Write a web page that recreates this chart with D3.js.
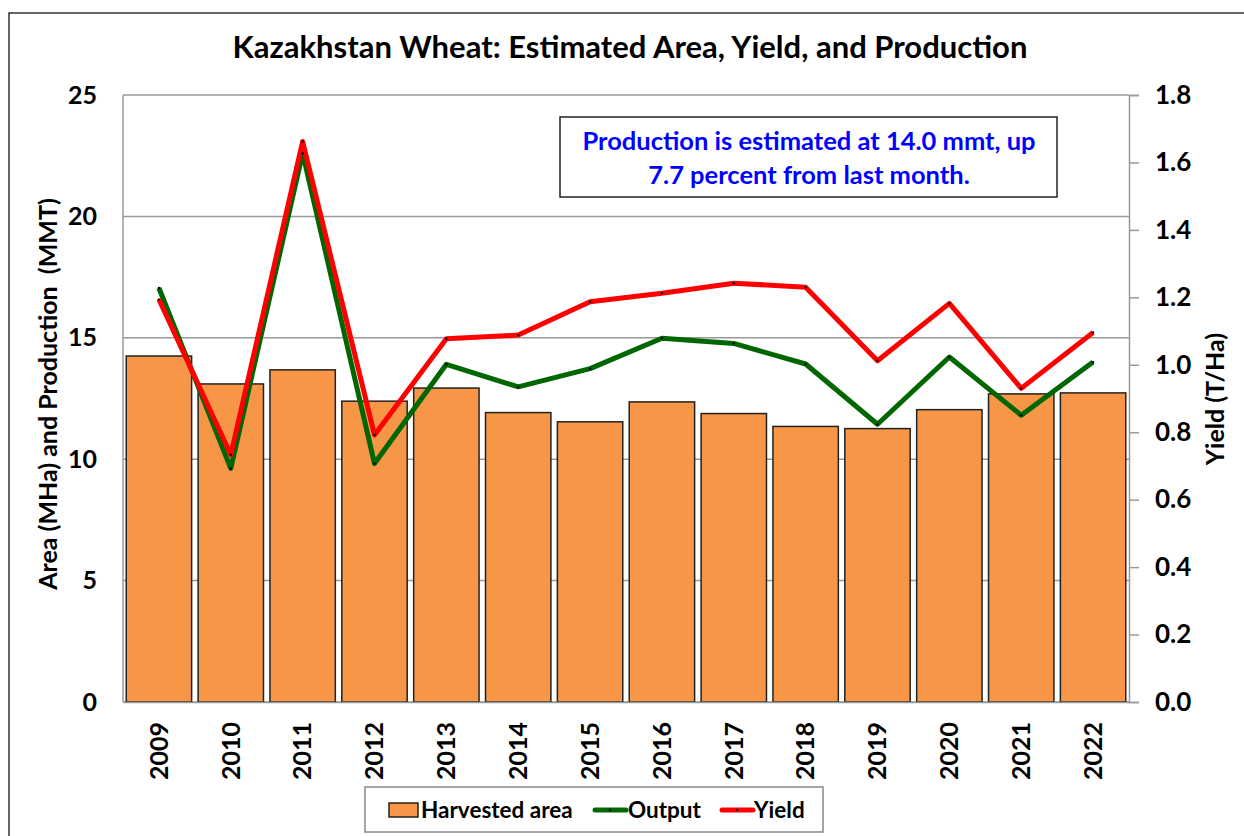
<!DOCTYPE html>
<html>
<head>
<meta charset="utf-8">
<script src="https://cdn.jsdelivr.net/npm/d3@7"></script>
<style>
    body { margin: 0; background: #fff; }
    text { font-family: Lato, "Open Sans", sans-serif; font-weight: bold; }
</style>
</head>
<body>
<div id="chart"></div>
<script>
// Data
const years = ['2009', '2010', '2011', '2012', '2013', '2014', '2015', '2016', '2017', '2018', '2019', '2020', '2021', '2022']
const harvestedArea = [14.25, 13.1, 13.68, 12.39, 12.93, 11.92, 11.54, 12.36, 11.88, 11.35, 11.26, 12.04, 12.69, 12.73]
const output = [17.05, 9.62, 22.6, 9.82, 13.91, 12.98, 13.73, 14.98, 14.77, 13.92, 11.44, 14.21, 11.81, 14.0]
const yieldTHa = [1.194, 0.733, 1.662, 0.792, 1.077, 1.088, 1.187, 1.212, 1.242, 1.23, 1.012, 1.182, 0.93, 1.096]
const leftTicks = [0, 5, 10, 15, 20, 25]
const rightTicks = [0, 0.2, 0.4, 0.6, 0.8, 1.0, 1.2, 1.4, 1.6, 1.8]
const noteLines = ['Production is estimated at 14.0 mmt, up', '7.7 percent from last month.']

const W = 1244, H = 836
const margin = { top: 95, right: 115, bottom: 134, left: 123 }
const width = W - margin.left - margin.right
const height = H - margin.top - margin.bottom

const svg = d3.select('#chart').append('svg')
    .attr('width', W)
    .attr('height', H)

// Outer frame (cropped on the right and bottom like the original)
svg.append('rect')
    .attr('x', 9).attr('y', 13)
    .attr('width', W + 20).attr('height', H + 20)
    .attr('fill', 'none')
    .attr('stroke', '#333')
    .attr('stroke-width', 1.5)

svg.append('text')
    .attr('x', 630).attr('y', 58)
    .attr('text-anchor', 'middle')
    .attr('font-size', 31)
    .text('Kazakhstan Wheat: Estimated Area, Yield, and Production')

const g = svg.append('g')
    .attr('transform', `translate(${margin.left},${margin.top})`)

const x = d3.scaleBand().domain(years).range([0, width]).paddingInner(0.09).paddingOuter(0.045)
const yLeft = d3.scaleLinear().domain([0, 25]).range([height, 0])
const yRight = d3.scaleLinear().domain([0, 1.8]).range([height, 0])

// Grid lines
g.append('g')
    .selectAll('line')
    .data(leftTicks)
    .join('line')
    .attr('x1', 0).attr('x2', width)
    .attr('y1', d => yLeft(d)).attr('y2', d => yLeft(d))
    .attr('stroke', '#999')
    .attr('stroke-width', 1.5)

// Plot frame (left side)
g.append('line')
    .attr('x1', 0).attr('x2', 0)
    .attr('y1', 0).attr('y2', height)
    .attr('stroke', '#999').attr('stroke-width', 1.5)

// Left axis
const leftAxis = g.append('g')
    .call(d3.axisLeft(yLeft).tickValues(leftTicks).tickSize(0).tickPadding(26))
leftAxis.select('.domain').remove()
leftAxis.selectAll('text').attr('font-size', 25).attr('fill', '#000')

// Bars
g.append('g')
    .selectAll('rect')
    .data(harvestedArea)
    .join('rect')
    .attr('x', (d, i) => x(years[i]))
    .attr('y', d => yLeft(d))
    .attr('width', x.bandwidth())
    .attr('height', d => height - yLeft(d))
    .attr('fill', '#F79646')
    .attr('stroke', '#222')
    .attr('stroke-width', 1.5)

// Bottom axis
const bottomAxis = g.append('g')
    .attr('transform', `translate(0,${height})`)
    .call(d3.axisBottom(x).tickSize(0).tickPadding(0))
bottomAxis.select('.domain').attr('stroke', '#999').attr('stroke-width', 1.5)
bottomAxis.selectAll('text')
    .attr('font-size', 25)
    .attr('fill', '#000')
    .attr('transform', 'rotate(-90)')
    .attr('text-anchor', 'end')
    .attr('x', -20)
    .attr('y', 0)
    .attr('dy', '0.35em')

// Right axis
const rightAxis = g.append('g')
    .attr('transform', `translate(${width},0)`)
    .call(d3.axisRight(yRight).tickValues(rightTicks).tickFormat(d3.format('.1f')).tickSize(10).tickPadding(16))
rightAxis.select('.domain').attr('stroke', '#999').attr('stroke-width', 1.5)
rightAxis.selectAll('line').attr('stroke', '#999').attr('stroke-width', 1.5)
rightAxis.selectAll('text').attr('font-size', 26).attr('fill', '#000')

// Lines
const cx = i => x(years[i]) + x.bandwidth() / 2

const outputLine = d3.line().x((d, i) => cx(i)).y(d => yLeft(d))
const yieldLine = d3.line().x((d, i) => cx(i)).y(d => yRight(d))

g.append('path')
    .datum(output)
    .attr('d', outputLine)
    .attr('fill', 'none')
    .attr('stroke', '#006600')
    .attr('stroke-width', 5)
    .attr('stroke-linejoin', 'round')

g.append('path')
    .datum(yieldTHa)
    .attr('d', yieldLine)
    .attr('fill', 'none')
    .attr('stroke', '#ff0000')
    .attr('stroke-width', 5)
    .attr('stroke-linejoin', 'round')

// tiny black markers
g.append('g').selectAll('circle')
    .data(output)
    .join('circle')
    .attr('cx', (d, i) => cx(i)).attr('cy', d => yLeft(d))
    .attr('r', 1.2).attr('fill', '#000')
g.append('g').selectAll('circle')
    .data(yieldTHa)
    .join('circle')
    .attr('cx', (d, i) => cx(i)).attr('cy', d => yRight(d))
    .attr('r', 1.2).attr('fill', '#000')

// Note box
svg.append('rect')
    .attr('x', 560).attr('y', 117)
    .attr('width', 497).attr('height', 80)
    .attr('fill', '#fff')
    .attr('stroke', '#222')
    .attr('stroke-width', 1.5)
svg.append('g')
    .selectAll('text')
    .data(noteLines)
    .join('text')
    .attr('x', 809)
    .attr('y', (d, i) => 150 + i * 34)
    .attr('text-anchor', 'middle')
    .attr('font-size', 25.5)
    .attr('fill', '#0000ff')
    .text(d => d)

// Axis titles
svg.append('text')
    .attr('transform', 'translate(57,394) rotate(-90)')
    .attr('text-anchor', 'middle')
    .attr('font-size', 25)
    .style('white-space', 'pre')
    .text('Area (MHa) and Production  (MMT)')

svg.append('text')
    .attr('transform', 'translate(1224,399) rotate(-90)')
    .attr('text-anchor', 'middle')
    .attr('font-size', 25)
    .text('Yield (T/Ha)')

// Legend
const legend = svg.append('g')
legend.append('rect')
    .attr('x', 365).attr('y', 787)
    .attr('width', 458).attr('height', 45)
    .attr('fill', '#fff')
    .attr('stroke', '#888')
    .attr('stroke-width', 1.5)
legend.append('rect')
    .attr('x', 389).attr('y', 803)
    .attr('width', 29).attr('height', 14)
    .attr('fill', '#F79646')
    .attr('stroke', '#222')
    .attr('stroke-width', 1.5)
legend.append('text').attr('x', 421).attr('y', 818).attr('font-size', 22.5).text('Harvested area')
legend.append('line')
    .attr('x1', 595).attr('x2', 626).attr('y1', 810).attr('y2', 810)
    .attr('stroke', '#006600').attr('stroke-width', 5).attr('stroke-linecap', 'round')
legend.append('circle').attr('cx', 610).attr('cy', 810).attr('r', 1.2).attr('fill', '#000')
legend.append('text').attr('x', 628).attr('y', 818).attr('font-size', 22.5).text('Output')
legend.append('line')
    .attr('x1', 722).attr('x2', 753).attr('y1', 810).attr('y2', 810)
    .attr('stroke', '#ff0000').attr('stroke-width', 5).attr('stroke-linecap', 'round')
legend.append('circle').attr('cx', 737).attr('cy', 810).attr('r', 1.2).attr('fill', '#000')
legend.append('text').attr('x', 754).attr('y', 818).attr('font-size', 22.5).text('Yield')
</script>
</body>
</html>
